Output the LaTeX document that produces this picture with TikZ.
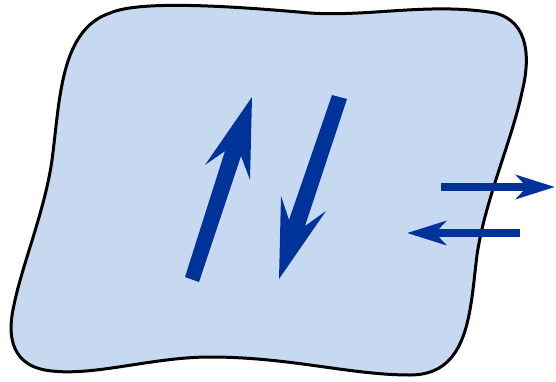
\documentclass[tikz,border=0pt]{standalone}
\usetikzlibrary{arrows.meta}
\definecolor{paleblue}{HTML}{C6D9F0}
\definecolor{darkblue}{HTML}{003399}

\begin{document}
\begin{tikzpicture}[x=1pt, y=-1pt,
	blob/.style = {draw=black, fill=paleblue, line width=3pt},
	spin/.style = {fill=darkblue},
	flux/.style = {-{Stealth[length=39pt, width=24pt, inset=11pt]}, draw=darkblue, line width=8pt}
	]
	\useasboundingbox (0,0) rectangle (556,381);
	
	%Region
	\draw[blob] (110,13) .. controls (140,0) and (230,6) .. (310,13)
		.. controls (370,17) and (430,2) .. (495,13)
		.. controls (530,22) and (530,60) .. (522,92)
		.. controls (512,140) and (485,200) .. (477,255)
		.. controls (470,310) and (470,375) .. (410,375)
		.. controls (350,375) and (290,357) .. (210,357)
		.. controls (150,357) and (90,378) .. (45,370)
		.. controls (8,363) and (8,330) .. (14,305)
		.. controls (22,265) and (45,210) .. (52,160)
		.. controls (60,100) and (60,30) .. (110,13) -- cycle;
	
	%Spins
	\fill[spin]	(185,277) -- (225,151) -- (205,165) -- (252,97) -- (250,180) -- (241,156) -- (199,282) -- cycle;
	\fill[spin]	(347,99) -- (305,226) -- (326,211) -- (279,279) -- (281,196) -- (289,220) -- (332,95) -- cycle;
	
	%Flux
	\coordinate (out-s)	at	(441,187);
	\coordinate (out-e)	at	(555,187);
	\coordinate (in-s)	at	(520,233);
	\coordinate (in-e)	at	(407,233);
	\draw[flux]	(out-s)	--	(out-e);
	\draw[flux]	(in-s)	--	(in-e);
	
\end{tikzpicture}
\end{document}
